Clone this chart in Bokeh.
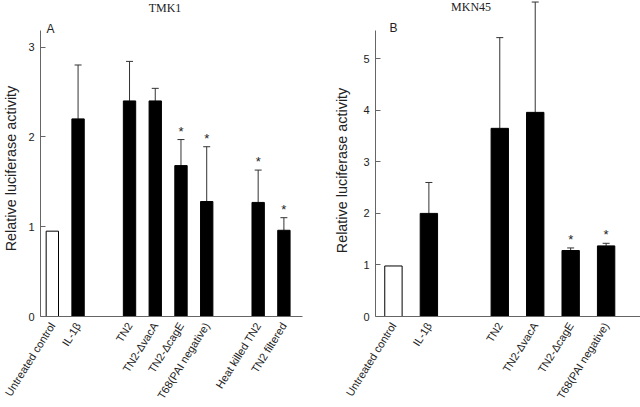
import math
from bokeh.plotting import figure
from bokeh.layouts import row
from bokeh.models import (ColumnDataSource, FixedTicker, Whisker, TeeHead, Label, Range1d)
from bokeh.core.properties import value
from bokeh.embed import file_html
from bokeh.resources import INLINE

# ---------------- data ----------------
A_labels = ["Untreated control", "IL-1\u03b2", "TN2", "TN2-\u0394vacA", "TN2-\u0394cagE",
            "T68(PAI negative)", "Heat killed TN2", "TN2 filtered"]
A_pos = [0, 1, 3, 4, 5, 6, 8, 9]
A_mean = [0.95, 2.20, 2.40, 2.40, 1.68, 1.28, 1.27, 0.96]
A_upper = [None, 2.80, 2.84, 2.54, 1.97, 1.89, 1.63, 1.10]
A_sig = [False, False, False, False, True, True, True, True]
A_yticks = [0, 1, 2, 3]

B_labels = ["Untreated control", "IL-1\u03b2", "TN2", "TN2-\u0394vacA", "TN2-\u0394cagE",
            "T68(PAI negative)"]
B_pos = [0, 1, 3, 4, 5, 6]
B_mean = [0.98, 2.00, 3.65, 3.96, 1.28, 1.37]
B_upper = [None, 2.60, 5.41, 6.10, 1.33, 1.42]
B_sig = [False, False, False, False, True, True]
B_yticks = [0, 1, 2, 3, 4, 5]

Y_TITLE = "Relative luciferase activity"

SANS = "Liberation Sans"
SERIF = "Liberation Serif"
TXT = "#222222"
AX = "#666666"
ANGLE = math.radians(58)
NBSP = "\u00a0"


def panel(title, letter, labels, pos, mean, upper, sig, yticks,
          width, left_border, xr, yr, ybounds, xbounds, bar_w, title_xy, letter_xy,
          ylab_standoff, ylab_pad):
    p = figure(width=width, height=407, output_backend="svg", toolbar_location=None,
               x_range=Range1d(*xr), y_range=Range1d(*yr),
               min_border_left=left_border, min_border_right=0,
               min_border_top=0, min_border_bottom=90)
    p.outline_line_color = None
    p.xgrid.visible = False
    p.ygrid.visible = False
    p.background_fill_color = "white"

    fills = ["white"] + ["black"] * (len(pos) - 1)
    src = ColumnDataSource(dict(x=pos, top=mean, fill=fills))
    p.vbar(x="x", top="top", width=bar_w, bottom=0, fill_color="fill",
           line_color="black", line_width=1, source=src)

    ex = [x for x, u in zip(pos, upper) if u is not None]
    eb = [m for m, u in zip(mean, upper) if u is not None]
    eu = [u for u in upper if u is not None]
    esrc = ColumnDataSource(dict(x=ex, lo=eb, up=eu))
    w = Whisker(base="x", lower="lo", upper="up", source=esrc, dimension="height",
                line_color="#333333", line_width=1,
                upper_head=TeeHead(size=7, line_color="#333333", line_width=1),
                lower_head=None)
    p.add_layout(w)

    sx = [x for x, s in zip(pos, sig) if s]
    sy = [u for u, s in zip(upper, sig) if s]
    p.text(x=sx, y=sy, text=["*"] * len(sx), text_align="center", text_baseline="bottom",
           y_offset=-1, text_font=value(SANS), text_font_size="13px", text_color=TXT)

    # axes
    xa = p.xaxis[0]
    xa.ticker = FixedTicker(ticks=pos)
    xa.major_label_overrides = {x: l for x, l in zip(pos, labels)}
    xa.major_label_orientation = ANGLE
    xa.major_tick_line_color = None
    xa.minor_tick_line_color = None
    xa.axis_line_color = AX
    xa.major_label_text_font = SANS
    xa.major_label_text_font_size = "11px"
    xa.major_label_text_color = TXT
    xa.major_label_standoff = 1
    if xbounds is not None:
        xa.bounds = xbounds

    ya = p.yaxis[0]
    ya.ticker = FixedTicker(ticks=yticks)
    ya.bounds = ybounds
    ya.axis_line_color = AX
    ya.major_tick_line_color = AX
    ya.major_tick_in = 5
    ya.major_tick_out = 0
    ya.minor_tick_line_color = None
    ya.major_label_text_font = SANS
    ya.major_label_text_font_size = "11px"
    ya.major_label_text_color = TXT
    ya.major_label_standoff = 6
    ya.axis_label = Y_TITLE + NBSP * ylab_pad
    ya.axis_label_text_font = SANS
    ya.axis_label_text_font_size = "14.4px"
    ya.axis_label_text_font_style = "normal"
    ya.axis_label_text_color = TXT
    ya.axis_label_standoff = ylab_standoff

    p.add_layout(Label(x=title_xy[0], y=title_xy[1], text=title, text_align="center",
                       text_baseline="middle", text_font=SERIF, text_font_size="12px",
                       text_color=TXT))
    p.add_layout(Label(x=letter_xy[0], y=letter_xy[1], text=letter, text_align="left",
                       text_baseline="middle", text_font=SANS, text_font_size="12px",
                       text_color=TXT))
    return p


pA = panel("TMK1", "A", A_labels, A_pos, A_mean, A_upper, A_sig, A_yticks,
           width=331, left_border=37, xr=(-0.46, 10.85), yr=(0, 3.518),
           ybounds=(0, 3.185), xbounds=(-0.46, 9.73), bar_w=0.48,
           title_xy=(4.38, 3.43), letter_xy=(-0.23, 3.20),
           ylab_standoff=6, ylab_pad=5)
pB = panel("MKN45", "B", B_labels, B_pos, B_mean, B_upper, B_sig, B_yticks,
           width=309, left_border=43, xr=(-0.506, 6.97), yr=(0, 6.13),
           ybounds=(0, 5.55), xbounds=None, bar_w=0.49,
           title_xy=(2.19, 6.0), letter_xy=(-0.11, 5.59),
           ylab_standoff=10, ylab_pad=6)

layout = row(pA, pB)
open("out.html", "w").write(file_html(layout, INLINE))
